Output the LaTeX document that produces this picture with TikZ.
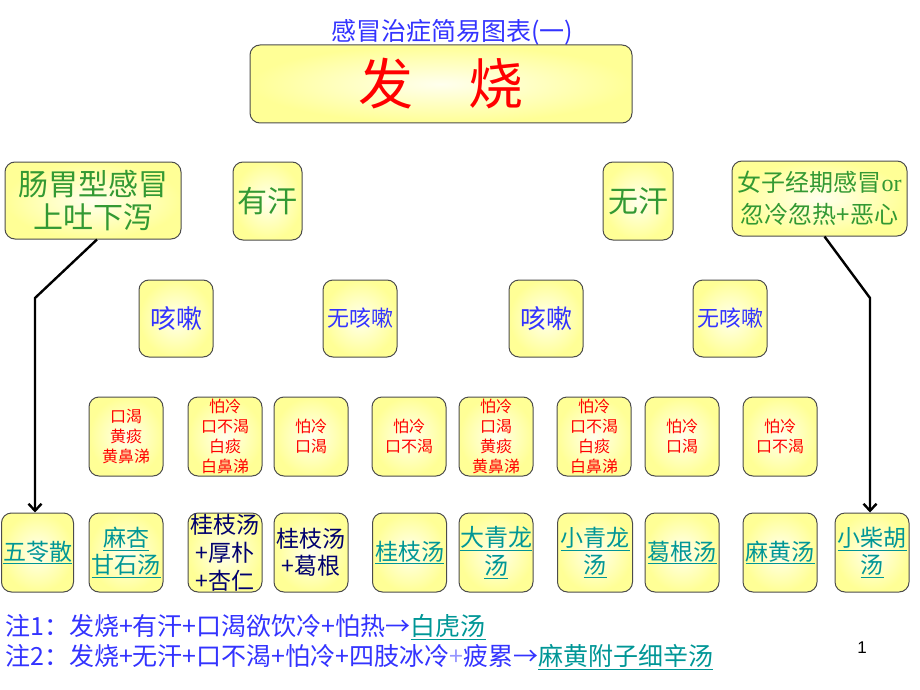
\documentclass[tikz,border=0pt]{standalone}
\usepackage{fontspec}
\setmainfont{Noto Sans CJK SC}
\newfontfamily\latinserif{Liberation Serif}
\newfontfamily\latinsans{Liberation Sans}
\usetikzlibrary{positioning,arrows.meta}

\definecolor{padfill}{RGB}{255,255,150}
\definecolor{padcore}{RGB}{255,255,238}
\definecolor{headgreen}{RGB}{51,153,51}
\definecolor{titleblue}{RGB}{51,51,255}
\definecolor{paleblue}{RGB}{150,150,255}
\definecolor{rxteal}{RGB}{0,150,150}
\definecolor{rxnavy}{RGB}{0,0,110}

\begin{document}
\begin{tikzpicture}[
  x=1pt, y=-1pt,
  pad/.style={draw=black!70, line width=1pt, rounded corners=10pt, inner sep=0pt,
              align=center, inner color=padcore, outer color=padfill,
              minimum width=74pt, minimum height=78pt},
  head/.style={pad, text=headgreen, font=\fontsize{30}{33}\selectfont},
  cough/.style={pad, text=titleblue, font=\fontsize{26}{30}\selectfont},
  sym/.style={pad, minimum height=79pt, text=red, font=\fontsize{16}{20}\selectfont},
  rx/.style={pad, minimum height=79pt, text=rxteal, font=\fontsize{23}{27}\selectfont},
  mix/.style={rx, text=rxnavy, font=\fontsize{23}{28}\selectfont},
  flow/.style={-{Straight Barb[length=7pt, width=13pt]}, line width=2.4pt, black},
  note/.style={anchor=west, inner sep=0pt, text=titleblue, font=\fontsize{25}{28}\selectfont},
]
  \useasboundingbox (0,0) rectangle (920,690);

  % Title
  \node[text=titleblue, font=\fontsize{25}{28}\selectfont] (title) at (452,32) {感冒治症简易图表(一)};
  \node[pad, minimum width=382pt, text=red, font=\fontsize{55}{60}\selectfont] (fever) at (441,84) {发\hspace{1em}烧};

  % Row 1
  \node[head, minimum width=176pt, minimum height=77pt] (gut) at (93,200.5) {肠胃型感冒\\上吐下泻};
  \node[head, minimum width=69pt] (sweat) at (267.5,201) {有汗};
  \node[head, minimum width=70pt] (dry) at (638,201) {无汗};
  \node[head, minimum width=175pt, minimum height=75pt, font=\fontsize{24}{32}\selectfont] (period) at (819.5,198.5)
    {女子经期感冒{\latinserif or}\\忽冷忽热+恶心};

  % Row 2
  \node[cough, minimum height=77pt] (coughA) at (176,318.5) {咳嗽};
  \node[cough, minimum height=77pt, font=\fontsize{22}{26}\selectfont] (quietA) at (360,318.5) {无咳嗽};
  \node[cough, minimum height=77pt] (coughB) at (546,318.5) {咳嗽};
  \node[cough, minimum height=77pt, font=\fontsize{22}{26}\selectfont] (quietB) at (730,318.5) {无咳嗽};

  % Row 3
  \node[sym] (symA) at (126,436.5) {口渴\\黄痰\\黄鼻涕};
  \node[sym] (symB) at (225,436.5) {怕冷\\口不渴\\白痰\\白鼻涕};
  \node[sym] (symC) at (311,436.5) {怕冷\\口渴};
  \node[sym] (symD) at (409,436.5) {怕冷\\口不渴};
  \node[sym] (symE) at (496,436.5) {怕冷\\口渴\\黄痰\\黄鼻涕};
  \node[sym] (symF) at (594,436.5) {怕冷\\口不渴\\白痰\\白鼻涕};
  \node[sym] (symG) at (682,436.5) {怕冷\\口渴};
  \node[sym] (symH) at (780,436.5) {怕冷\\口不渴};

  % Row 4
  \node[rx, minimum width=72pt] (wuling) at (37.5,552.5) {\underline{五苓散}};
  \node[rx] (maxing) at (126,552.5) {\underline{麻杏}\\\underline{甘石汤}};
  \node[mix] (houpu) at (225,552.5) {桂枝汤\\+厚朴\\+杏仁};
  \node[mix, font=\fontsize{23}{27}\selectfont] (gegenplus) at (311,552.5) {桂枝汤\\+葛根};
  \node[rx] (guizhi) at (409.5,552.5) {\underline{桂枝汤}};
  \node[rx, font=\fontsize{24}{28}\selectfont] (daqing) at (496,552.5) {\underline{大青龙}\\\underline{汤}};
  \node[rx, minimum width=75pt] (xiaoqing) at (595,552.5) {\underline{小青龙}\\\underline{汤}};
  \node[rx] (gegen) at (682,552.5) {\underline{葛根汤}};
  \node[rx] (mahuang) at (780,552.5) {\underline{麻黄汤}};
  \node[rx] (chaihu) at (872,552.5) {\underline{小柴胡}\\\underline{汤}};

  \coordinate (kneeL) at (35,298);
  \coordinate (kneeR) at (870,298);
  \draw[flow] ([xshift=4pt]gut.south) -- (kneeL) -- (kneeL |- wuling.north);
  \draw[flow] ([xshift=5pt]period.south) -- (kneeR) -- (kneeR |- chaihu.north);

  % Notes
  \node[note] (noteA) at (5,627) {注1：发烧+有汗+口渴欲饮冷+怕热→\textcolor{rxteal}{\underline{白虎汤}}};
  \node[note] (noteB) at (5,657) {注2：发烧+无汗+口不渴+怕冷+四肢冰冷\textcolor{paleblue}{+}疲累→\textcolor{rxteal}{\underline{麻黄附子细辛汤}}};
  \node[font=\latinsans\fontsize{17}{20}\selectfont] (pageno) at (862,648) {1};
\end{tikzpicture}
\end{document}
